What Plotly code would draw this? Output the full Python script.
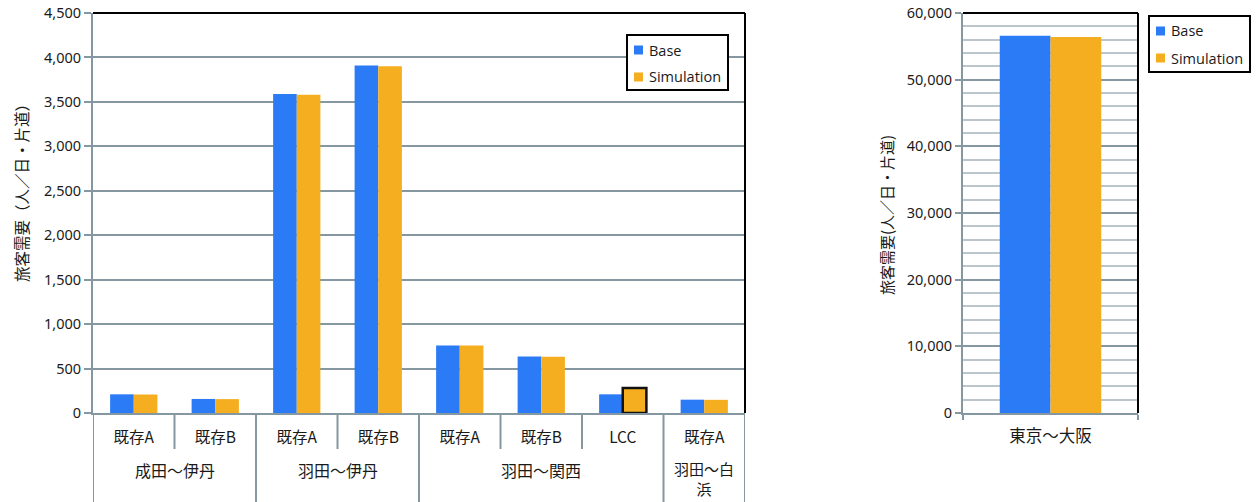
import plotly.graph_objects as go

# 路線別の旅客需要（人／日・片道）
routes = ["成田～伊丹", "羽田～伊丹", "羽田～関西", "羽田～白<br>浜"]
route_sizes = [2, 2, 3, 1]
services = ["既存A", "既存B", "既存A", "既存B", "既存A", "既存B", "LCC", "既存A"]
base = [210, 158, 3590, 3910, 760, 635, 210, 150]
simulation = [208, 156, 3580, 3900, 758, 633, 280, 148]

# 幹線（東京～大阪）
main_route = ["東京～大阪"]
main_base = [56600]
main_simulation = [56400]

series_names = ["Base", "Simulation"]
highlight_service = "LCC"

BLUE = "#2A7BF5"
ORANGE = "#F5AE1F"
SLATE = "#8597A0"
MINOR = "#BAC6CB"
TEXT = "#1a1a1a"
JP_FONT = "Noto Sans CJK JP"
NUM_FONT = "Noto Sans"
LEGEND_FONT = "Open Sans"

W, H = 1257, 502


def px_x(p):
    return p / W


def px_y(p):
    return 1 - p / H


xpos = list(range(len(services)))
sim_line_width = [2.5 if s == highlight_service else 0 for s in services]

fig = go.Figure()
fig.add_trace(go.Bar(x=xpos, y=base, name=series_names[0], marker=dict(color=BLUE, line=dict(width=0)),
                     xaxis="x", yaxis="y"))
fig.add_trace(go.Bar(x=xpos, y=simulation, name=series_names[1],
                     marker=dict(color=ORANGE, line=dict(width=sim_line_width, color="#111111")),
                     xaxis="x", yaxis="y"))
fig.add_trace(go.Bar(x=main_route, y=main_base, name=series_names[0],
                     marker=dict(color=BLUE, line=dict(width=0)), xaxis="x2", yaxis="y2"))
fig.add_trace(go.Bar(x=main_route, y=main_simulation, name=series_names[1],
                     marker=dict(color=ORANGE, line=dict(width=0)), xaxis="x2", yaxis="y2"))

ydom = [px_y(413), px_y(13)]

fig.update_layout(
    width=W, height=H,
    margin=dict(l=0, r=0, t=0, b=0),
    paper_bgcolor="white", plot_bgcolor="white",
    barmode="group", bargap=0.42, bargroupgap=0,
    showlegend=False,
    font=dict(family=NUM_FONT, color=TEXT, size=14),
    xaxis=dict(domain=[px_x(93), px_x(745)], range=[-0.5, 7.5], tickvals=xpos, ticktext=services,
               tickfont=dict(family=JP_FONT, size=15.5), ticks="", showgrid=False, zeroline=False,
               showline=True, linecolor=SLATE, linewidth=2, ticklabelstandoff=9, automargin=False,
               fixedrange=True),
    yaxis=dict(domain=ydom, range=[0, 4500], dtick=500, tickformat=",", showgrid=True,
               gridcolor=SLATE, gridwidth=1.5, zeroline=False, showline=True, linecolor=SLATE,
               linewidth=2, ticks="outside", ticklen=7, tickcolor=SLATE, tickwidth=1.5,
               tickfont=dict(size=14.5), automargin=False),
    xaxis2=dict(domain=[px_x(963), px_x(1138)], type="category", ticks="outside", tickson="boundaries",
                ticklen=5, tickcolor=SLATE, tickwidth=2, showline=True, linecolor=SLATE, linewidth=2,
                tickfont=dict(family=JP_FONT, size=16.5), showgrid=False, ticklabelstandoff=7,
                automargin=False, anchor="y2"),
    yaxis2=dict(domain=ydom, range=[0, 60000], dtick=10000, tickformat=",", showgrid=True,
                gridcolor=SLATE, gridwidth=2, zeroline=False, showline=True, linecolor=SLATE,
                linewidth=2, ticks="outside", ticklen=6, tickcolor=SLATE, tickwidth=1.5,
                tickfont=dict(size=14.5), automargin=False, anchor="x2",
                minor=dict(dtick=2000, showgrid=True, gridcolor=MINOR, gridwidth=2)),
)

shapes = []
annotations = []

# 外枠（上・右）
for xr, yr in (("x domain", "y domain"), ("x2 domain", "y2 domain")):
    shapes.append(dict(type="line", xref=xr, yref=yr, x0=0, x1=1, y0=1, y1=1,
                       line=dict(color="black", width=2)))
    shapes.append(dict(type="line", xref=xr, yref=yr, x0=1, x1=1, y0=0, y1=1,
                       line=dict(color="black", width=2)))

# カテゴリ区切り線
bounds = [-0.5]
for n in route_sizes:
    bounds.append(bounds[-1] + n)
inner = [i + 0.5 for i in range(len(services) - 1) if (i + 0.5) not in bounds]
for b in bounds:
    shapes.append(dict(type="line", xref="x", yref="paper", x0=b, x1=b, y0=px_y(413), y1=0,
                       line=dict(color=SLATE, width=2)))
for b in inner:
    shapes.append(dict(type="line", xref="x", yref="paper", x0=b, x1=b, y0=px_y(413), y1=px_y(449),
                       line=dict(color=SLATE, width=2)))

# 路線名（外側カテゴリ）
for i, r in enumerate(routes):
    cx = (bounds[i] + bounds[i + 1]) / 2
    multi = "<br>" in r
    annotations.append(dict(x=cx, y=px_y(478) if multi else px_y(470), xref="x", yref="paper",
                            text=r, showarrow=False, yanchor="middle", xanchor="center",
                            font=dict(family=JP_FONT, size=15 if multi else 16, color=TEXT)))

# 軸タイトル
annotations.append(dict(x=px_x(21), y=px_y(189), xref="paper", yref="paper",
                        text="旅客需要（人／日・片道）", textangle=-90, showarrow=False,
                        xanchor="center", yanchor="middle",
                        font=dict(family=JP_FONT, size=15.5, color=TEXT)))
annotations.append(dict(x=px_x(886), y=px_y(215), xref="paper", yref="paper",
                        text="旅客需要(人／日・片道)", textangle=-90, showarrow=False,
                        xanchor="center", yanchor="middle",
                        font=dict(family=JP_FONT, size=15, color=TEXT)))


# 凡例（枠・色見本・系列名）
def add_legend(left, top, right, bottom, rows):
    shapes.append(dict(type="rect", xref="paper", yref="paper", x0=px_x(left), x1=px_x(right),
                       y0=px_y(bottom), y1=px_y(top), fillcolor="white",
                       line=dict(color="black", width=2)))
    for name, color, cy in rows:
        shapes.append(dict(type="rect", xref="paper", yref="paper", x0=px_x(left + 7),
                           x1=px_x(left + 16), y0=px_y(cy + 4.5), y1=px_y(cy - 4.5),
                           fillcolor=color, line=dict(width=0)))
        annotations.append(dict(x=px_x(left + 20), y=px_y(cy), xref="paper", yref="paper",
                                text=name, showarrow=False, xanchor="left", yanchor="middle",
                                font=dict(family=LEGEND_FONT, size=14.5, color=TEXT)))


add_legend(627, 35, 728, 90, [(series_names[0], BLUE, 50), (series_names[1], ORANGE, 77)])
add_legend(1149, 16, 1250, 72, [(series_names[0], BLUE, 31), (series_names[1], ORANGE, 58)])

fig.update_layout(shapes=shapes, annotations=annotations)

fig.write_html("out.html")
